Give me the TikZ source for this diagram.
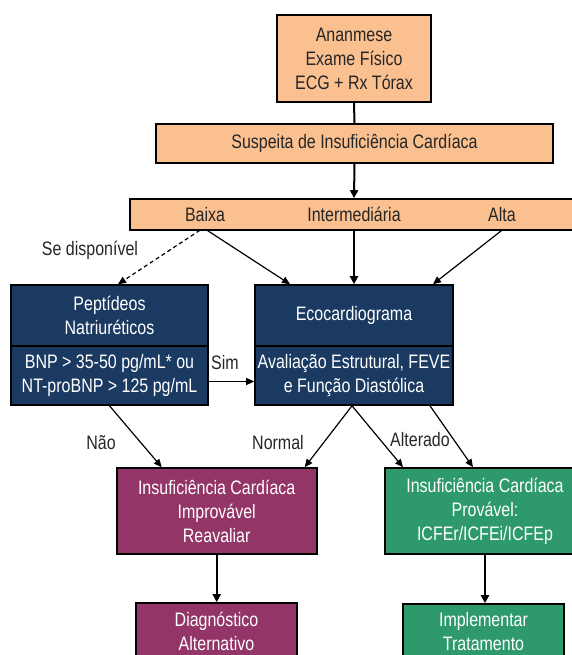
\documentclass[tikz,border=0pt]{standalone}
\usepackage{fontspec}
\setmainfont{Liberation Sans}[FakeStretch=0.82]
\usetikzlibrary{arrows.meta}
\definecolor{orng}{HTML}{FAC08F}
\definecolor{navy}{HTML}{1B3A62}
\definecolor{purp}{HTML}{933566}
\definecolor{grn}{HTML}{2E9A6C}
\definecolor{txt}{HTML}{262626}
\begin{document}
\begin{tikzpicture}[x=1pt,y=-1pt,
 box/.style={draw=black,line width=1.6pt,inner sep=0pt,align=center,font=\fontsize{19.5}{24}\selectfont},
 obox/.style={box,fill=orng,text=txt},
 nbox/.style={box,fill=navy,text=white},
 pbox/.style={box,fill=purp,text=white},
 gbox/.style={box,fill=grn,text=white},
 lbl/.style={font=\fontsize{19.5}{24}\selectfont,text=txt,inner sep=0pt},
 arr/.style={-{Triangle[length=8pt,width=7pt]},line width=1.2pt},
 varr/.style={-{Triangle[length=8pt,width=8pt]},line width=2pt},
]
\useasboundingbox (0,0) rectangle (571,655);
% top boxes
\node[obox,minimum width=154pt,minimum height=87pt] (anam) at (354,58.5) {Ananmese\\Exame Físico\\ECG + Rx Tórax};
\node[obox,minimum width=397pt,minimum height=39pt] (susp) at (354.5,143.5) {Suspeita de Insuficiência Cardíaca};
\node[obox,minimum width=448pt,minimum height=31pt] (bar) at (354,214.5) {};
\node[lbl,minimum height=31pt] (baixa) at (205,214.5) {Baixa};
\node[lbl,minimum height=31pt] (inter) at (354,214.5) {Intermediária};
\node[lbl,minimum height=31pt] (alta) at (502,214.5) {Alta};
% middle boxes
\node[nbox,minimum width=197pt,minimum height=61pt] (pepT) at (109.5,315.5) {Peptídeos\\Natriuréticos};
\node[nbox,minimum width=197pt,minimum height=59pt] (pepB) at (109.5,375.5) {BNP > 35-50 pg/mL* ou\\NT-proBNP > 125 pg/mL};
\node[nbox,minimum width=198pt,minimum height=61pt] (ecoT) at (354,315.5) {Ecocardiograma};
\node[nbox,minimum width=198pt,minimum height=59pt] (ecoB) at (354,375.5) {Avaliação Estrutural, FEVE\\e Função Diastólica};
% lower boxes
\node[pbox,minimum width=200pt,minimum height=86pt] (purp1) at (216.7,511) {Insuficiência Cardíaca\\Improvável\\Reavaliar};
\node[gbox,minimum width=200pt,minimum height=86pt] (green1) at (485,511) {Insuficiência Cardíaca\\Provável:\\ICFEr/ICFEi/ICFEp};
\node[pbox,minimum width=161pt,minimum height=57pt] (purp2) at (216.5,631.5) {Diagnóstico\\Alternativo};
\node[gbox,minimum width=161pt,minimum height=56pt] (green2) at (483.5,632) {Implementar\\Tratamento};
% labels
\node[lbl] (lse) at (90,250) {Se disponível};
\node[lbl] (lsim) at (225,363) {Sim};
\node[lbl] (lnao) at (101,443) {Não};
\node[lbl] (lnorm) at (278,443) {Normal};
\node[lbl] (lalt) at (420,440) {Alterado};
% connectors
\draw[line width=2pt] (anam.south) -- (susp.north);
\draw[varr] (susp.south) -- (bar.north);
\draw[varr] (inter.south) -- (ecoT.north);
\draw[arr] ([xshift=2pt]baixa.south) -- ([xshift=-64pt]ecoT.north);
\draw[arr,dash pattern=on 4pt off 3pt] ([xshift=-5pt]baixa.south) -- ([xshift=8.5pt]pepT.north);
\draw[arr] (alta.south) -- ([xshift=79pt]ecoT.north);
\draw[arr] ([yshift=-6pt]pepB.east) -- ([yshift=-6pt]ecoB.west);
\draw[arr] (pepB.south) -- ([xshift=-55pt]purp1.north);
\draw[arr] ([xshift=-2pt]ecoB.south) -- ([xshift=88pt]purp1.north);
\draw[arr] ([xshift=-2pt]ecoB.south) -- ([xshift=-82pt]green1.north);
\draw[arr] ([xshift=76pt]ecoB.south) -- ([xshift=-12pt]green1.north);
\draw[varr] (purp1.south) -- (purp1.south |- purp2.north);
\draw[varr] (green1.south) -- (green1.south |- green2.north);
\end{tikzpicture}
\end{document}
